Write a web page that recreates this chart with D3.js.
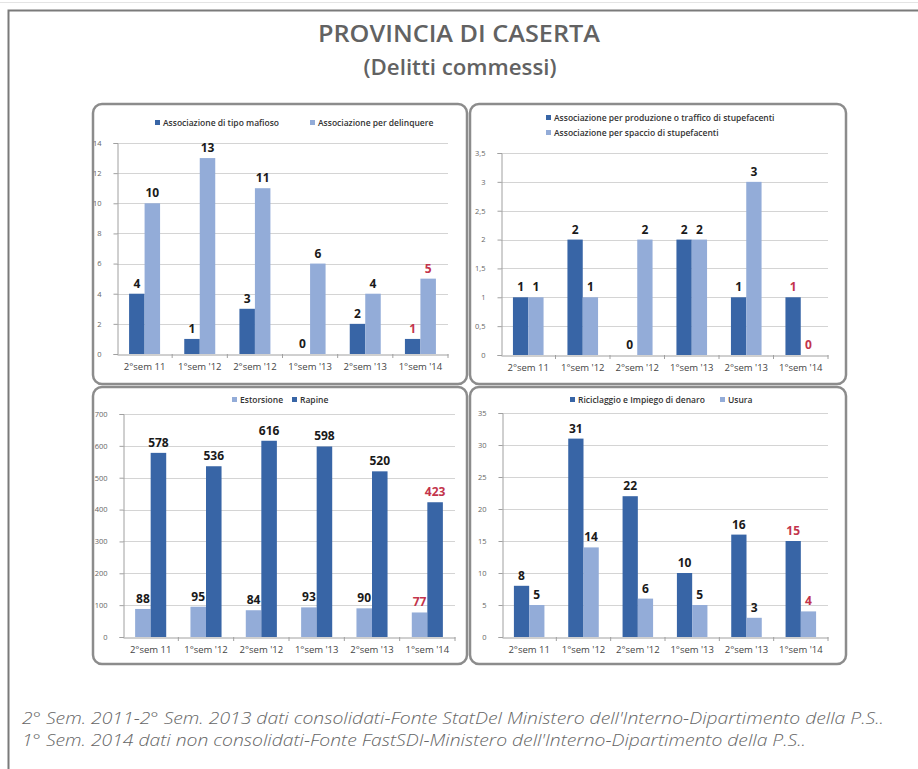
<!DOCTYPE html>
<html>
<head>
<meta charset="utf-8">
<script src="https://cdn.jsdelivr.net/npm/d3@7"></script>
<style>
  html, body { margin: 0; padding: 0; background: #fff; }
  svg { display: block; }
</style>
</head>
<body>
<svg id="chart" width="918" height="769"></svg>
<script>
// Semesters shown on every panel
const categories = ["2°sem 11", "1°sem '12", "2°sem '12", "1°sem '13", "2°sem '13", "1°sem '14"];

// Associazione di tipo mafioso / per delinquere
const mafiosoValues = [4, 1, 3, 0, 2, 1];
const delinquereValues = [10, 13, 11, 6, 4, 5];

// Stupefacenti
const produzioneValues = [1, 2, 0, 2, 1, 1];
const spaccioValues = [1, 1, 2, 2, 3, 0];

// Estorsione / Rapine
const estorsioneValues = [88, 95, 84, 93, 90, 77];
const rapineValues = [578, 536, 616, 598, 520, 423];

// Riciclaggio / Usura
const riciclaggioValues = [8, 31, 22, 10, 16, 15];
const usuraValues = [5, 14, 6, 5, 3, 4];

// Y-axis ticks per panel
const ticksMafia = [0, 2, 4, 6, 8, 10, 12, 14];
const ticksDroga = [0, 0.5, 1, 1.5, 2, 2.5, 3, 3.5];
const ticksRapine = [0, 100, 200, 300, 400, 500, 600, 700];
const ticksRiciclaggio = [0, 5, 10, 15, 20, 25, 30, 35];

const title = "PROVINCIA DI CASERTA";
const subtitle = "(Delitti commessi)";
const footnotes = [
  "2° Sem. 2011-2° Sem. 2013 dati consolidati-Fonte StatDel Ministero dell'Interno-Dipartimento della P.S..",
  "1° Sem. 2014 dati non consolidati-Fonte FastSDI-Ministero dell'Interno-Dipartimento della P.S.."
];
const footnoteWidths = [862, 784];

const DARK = "#3865a6";
const LIGHT = "#93acd8";
const RED = "#c3344c";
const FONT = "'Open Sans', 'Noto Sans', sans-serif";

const svg = d3.select("#chart");

// Outer frame (left and top edges)
svg.append("line").attr("x1", 0).attr("x2", 918).attr("y1", 2.5).attr("y2", 2.5)
  .attr("stroke", "#e4e4e4").attr("stroke-width", 1);
svg.append("path").attr("d", "M8.5,769 V10.5 H918")
  .attr("fill", "none").attr("stroke", "#7a7a7a").attr("stroke-width", 2);

svg.append("text").attr("x", 459).attr("y", 42).attr("text-anchor", "middle")
  .attr("font-family", FONT).attr("font-size", 23).attr("font-weight", 600).attr("fill", "#626262")
  .attr("textLength", 282).attr("lengthAdjust", "spacingAndGlyphs")
  .text(title);
svg.append("text").attr("x", 460).attr("y", 75).attr("text-anchor", "middle")
  .attr("font-family", FONT).attr("font-size", 22).attr("font-weight", 600).attr("fill", "#626262")
  .attr("textLength", 193).attr("lengthAdjust", "spacingAndGlyphs")
  .text(subtitle);

const panels = [
  {
    box: [93, 104, 374, 280],
    plot: { left: 117, right: 448, top: 143, bottom: 354 },
    ticks: ticksMafia, fmt: d => String(d),
    series: [
      { name: "Associazione di tipo mafioso", values: mafiosoValues, color: DARK },
      { name: "Associazione per delinquere", values: delinquereValues, color: LIGHT }
    ],
    legend: [{ x: 155, y: 123 }, { x: 310, y: 123 }]
  },
  {
    box: [470, 104, 376, 280],
    plot: { left: 501, right: 828, top: 153, bottom: 355 },
    ticks: ticksDroga, fmt: d => String(d).replace(".", ","),
    series: [
      { name: "Associazione per produzione o traffico di stupefacenti", values: produzioneValues, color: DARK },
      { name: "Associazione per spaccio di stupefacenti", values: spaccioValues, color: LIGHT }
    ],
    legend: [{ x: 546, y: 118 }, { x: 546, y: 133 }]
  },
  {
    box: [93, 387, 374, 277],
    plot: { left: 123, right: 455, top: 414, bottom: 637 },
    ticks: ticksRapine, fmt: d => String(d),
    series: [
      { name: "Estorsione", values: estorsioneValues, color: LIGHT },
      { name: "Rapine", values: rapineValues, color: DARK }
    ],
    legend: [{ x: 232, y: 400 }, { x: 292, y: 400 }]
  },
  {
    box: [470, 387, 376, 277],
    plot: { left: 502, right: 828, top: 413, bottom: 637 },
    ticks: ticksRiciclaggio, fmt: d => String(d),
    series: [
      { name: "Riciclaggio e Impiego di denaro", values: riciclaggioValues, color: DARK },
      { name: "Usura", values: usuraValues, color: LIGHT }
    ],
    legend: [{ x: 570, y: 400 }, { x: 720, y: 400 }]
  }
];

panels.forEach(p => {
  const g = svg.append("g");
  const [bx, by, bw, bh] = p.box;

  g.append("rect").attr("x", bx).attr("y", by).attr("width", bw).attr("height", bh)
    .attr("rx", 9).attr("ry", 9)
    .attr("fill", "#fff").attr("stroke", "#8c8c8c").attr("stroke-width", 2.5);

  const { left, right, top, bottom } = p.plot;
  const yMax = p.ticks[p.ticks.length - 1];
  const y = d3.scaleLinear().domain([0, yMax]).range([bottom, top]);
  const x = d3.scaleBand().domain(categories).range([left, right]).padding(0);
  // the two bars of a semester fill a bit more than half of its slot
  const inner = d3.scaleBand().domain(p.series.map(s => s.name))
    .range([0, x.bandwidth()]).paddingInner(0).paddingOuter(0.78);

  // gridlines
  g.append("g").selectAll("line").data(p.ticks.filter(t => t > 0)).join("line")
    .attr("x1", left).attr("x2", right)
    .attr("y1", d => Math.round(y(d)) + 0.5).attr("y2", d => Math.round(y(d)) + 0.5)
    .attr("stroke", "#d4d4d4").attr("stroke-width", 1);

  // y axis
  const yAxis = g.append("g").attr("transform", `translate(${left + 0.5},0)`)
    .call(d3.axisLeft(y).tickValues(p.ticks).tickFormat(p.fmt).tickSize(4).tickPadding(12));
  yAxis.select(".domain").attr("stroke", "#a0a0a0");
  yAxis.selectAll(".tick line").attr("stroke", "#a0a0a0");
  yAxis.selectAll(".tick text").attr("font-family", FONT).attr("font-size", 7.5).attr("fill", "#666");

  // bars and value labels
  p.series.forEach(s => {
    g.append("g").selectAll("rect").data(s.values).join("rect")
      .attr("x", (d, i) => x(categories[i]) + inner(s.name))
      .attr("width", inner.bandwidth())
      .attr("y", d => y(d))
      .attr("height", d => y(0) - y(d))
      .attr("fill", s.color);

    g.append("g").selectAll("text").data(s.values).join("text")
      .attr("x", (d, i) => x(categories[i]) + inner(s.name) + inner.bandwidth() / 2)
      .attr("y", d => y(d) - 6)
      .attr("text-anchor", "middle")
      .attr("font-family", FONT).attr("font-weight", 700).attr("font-size", 12)
      .attr("fill", (d, i) => i === categories.length - 1 ? RED : "#1a1a1a")
      .text(d => d);
  });

  // x axis
  const xAxis = g.append("g").attr("transform", `translate(0,${bottom + 0.5})`)
    .call(d3.axisBottom(x).tickSize(0).tickPadding(9));
  xAxis.select(".domain").attr("stroke", "#a0a0a0");
  xAxis.selectAll(".tick text").attr("font-family", FONT).attr("font-size", 9.5).attr("fill", "#444");
  g.append("g").selectAll("line").data(categories.slice(1).concat(["__end"])).join("line")
    .attr("x1", d => d === "__end" ? right : x(d)).attr("x2", d => d === "__end" ? right : x(d))
    .attr("y1", bottom).attr("y2", bottom + 4)
    .attr("stroke", "#a0a0a0");

  // legend
  p.series.forEach((s, i) => {
    const l = p.legend[i];
    g.append("rect").attr("x", l.x).attr("y", l.y - 3).attr("width", 5).attr("height", 5)
      .attr("fill", s.color);
    g.append("text").attr("x", l.x + 8).attr("y", l.y + 2.8)
      .attr("font-family", FONT).attr("font-weight", 600).attr("font-size", 8.5)
      .attr("fill", "#333").text(s.name);
  });
});

// Source notes
svg.append("g").selectAll("text").data(footnotes).join("text")
  .attr("x", 22).attr("y", (d, i) => 724 + i * 22)
  .attr("font-family", FONT).attr("font-style", "italic").attr("font-weight", 300)
  .attr("font-size", 16).attr("fill", "#666")
  .attr("textLength", (d, i) => footnoteWidths[i]).attr("lengthAdjust", "spacingAndGlyphs")
  .text(d => d);
</script>
</body>
</html>
